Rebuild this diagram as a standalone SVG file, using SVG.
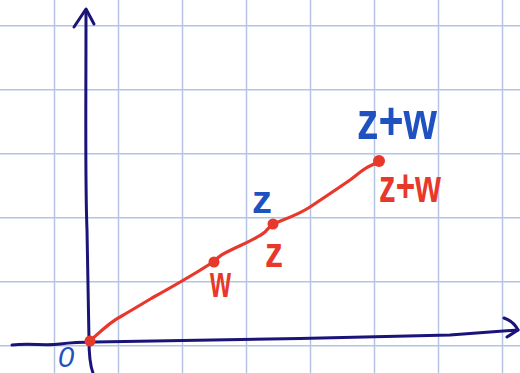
<svg xmlns="http://www.w3.org/2000/svg" width="520" height="373" viewBox="0 0 520 373">
<style>
.grid line{stroke:#b3c5e3;stroke-width:1.5}
.axis{fill:none;stroke:#1b1478;stroke-width:3;stroke-linecap:round;stroke-linejoin:round}
.red{fill:none;stroke:#e8382b;stroke-width:3.2;stroke-linecap:round;stroke-linejoin:round}
.dot{fill:#e8382b}
.lb{font-family:"Liberation Sans",Arial,sans-serif;fill:#1f52c0;font-weight:bold}
.lr{font-family:"Liberation Sans",Arial,sans-serif;fill:#e8382b;font-weight:bold}
.zero{font-family:"Liberation Sans",Arial,sans-serif;fill:#1f52c0;font-style:italic;font-weight:normal}
</style>
<rect width="520" height="373" fill="#ffffff"/>
<g class="grid" id="grid">
<line x1="54.5" y1="0" x2="54.5" y2="373"/>
<line x1="118.5" y1="0" x2="118.5" y2="373"/>
<line x1="182.5" y1="0" x2="182.5" y2="373"/>
<line x1="246.5" y1="0" x2="246.5" y2="373"/>
<line x1="310.5" y1="0" x2="310.5" y2="373"/>
<line x1="374.5" y1="0" x2="374.5" y2="373"/>
<line x1="438.5" y1="0" x2="438.5" y2="373"/>
<line x1="502.5" y1="0" x2="502.5" y2="373"/>
<line x1="0" y1="25.7" x2="520" y2="25.7"/>
<line x1="0" y1="89.7" x2="520" y2="89.7"/>
<line x1="0" y1="153.7" x2="520" y2="153.7"/>
<line x1="0" y1="217.7" x2="520" y2="217.7"/>
<line x1="0" y1="281.7" x2="520" y2="281.7"/>
<line x1="0" y1="345.7" x2="520" y2="345.7"/>
</g>
<g id="axes">
<path class="axis" d="M93 373 C90 365 89 352 89 340 L87 230 C85 180 86 120 86 10"/>
<path class="axis" d="M74 27 L86 9 L94 24"/>
<path class="axis" d="M12 345 C30 343 45 346 60 344 C75 342 85 342 95 342 L300 338.5 L450 335 L518 330"/>
<path class="axis" d="M504 318 C510 320 515 324 518 330 L507 337"/>
</g>
<g id="connectors">
<path class="red" d="M90 341 C100 332 110 322 120 317 C132 310 142 304 152 298 C170 288 195 274 213 262 C218 258 220 255 225 253 C240 245 255 240 265 232 C268 229 270 226 273 224 C285 219 298 215 310 207 C325 197 340 187 350 180 C358 174 364 168 372 165 L380 161"/>
</g>
<g id="origin">
<circle class="dot" cx="90" cy="341" r="5.5"/>
<text class="zero" x="58" y="367" font-size="29">0</text>
</g>
<g id="w">
<circle class="dot" cx="214" cy="262" r="5.5"/>
<text class="lr" x="210" y="297" font-size="44" textLength="21" lengthAdjust="spacingAndGlyphs">w</text>
</g>
<g id="z">
<circle class="dot" cx="273" cy="224" r="5.5"/>
<text class="lb" x="252" y="213" font-size="38" textLength="20" lengthAdjust="spacingAndGlyphs">z</text>
<text class="lr" x="265" y="267" font-size="42" textLength="18" lengthAdjust="spacingAndGlyphs">z</text>
</g>
<g id="zw">
<circle class="dot" cx="379" cy="161" r="6"/>
<text class="lb" x="357" y="139" font-size="54" textLength="80" lengthAdjust="spacingAndGlyphs">z+w</text>
<text class="lr" x="379" y="202" font-size="46" textLength="62" lengthAdjust="spacingAndGlyphs">z+w</text>
</g>
</svg>
